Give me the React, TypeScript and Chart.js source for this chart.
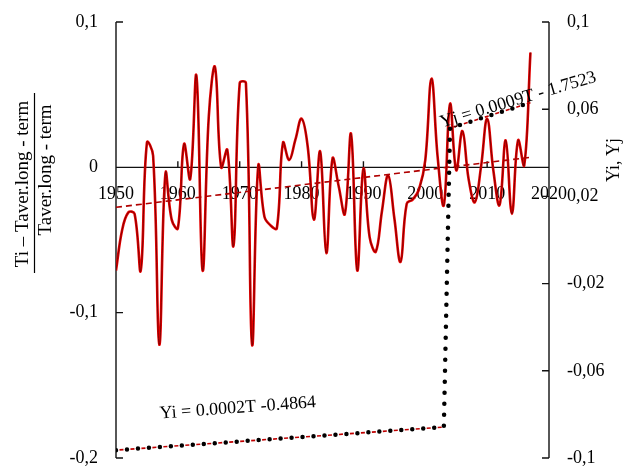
import { useEffect, useRef } from "react";
import { Chart, registerables } from "chart.js";

Chart.register(...registerables);

// Relative deviation of annual temperature from the long-term mean
const firstYear = 1950;
const anomaly = [
  -0.071, -0.043, -0.031, -0.032, -0.071, 0.017, 0.008, -0.122, -0.004, -0.036, // 1950-1959
  -0.042, 0.016, -0.008, 0.063, -0.071, 0.035, 0.069, 0.0, 0.012, -0.054, // 1960-1969
  0.058, 0.058, -0.122, 0.001, -0.034, -0.04, -0.042, 0.017, 0.005, 0.019, // 1970-1979
  0.0335, 0.014, -0.036, 0.011, -0.059, 0.006, -0.013, -0.032, 0.023, -0.071, // 1980-1989
  -0.001, -0.048, -0.058, -0.03, -0.0055, -0.035, -0.065, -0.025, -0.022, -0.015, // 1990-1999
  0.005, 0.061, 0.007, -0.026, 0.0437, -0.002, 0.025, -0.008, -0.024, 0.0, // 2000-2009
  0.0335, -0.002, -0.026, 0.0186, -0.032, 0.0186, 0.0014, 0.079, // 2010-2017
];
const years = anomaly.map((_, i) => firstYear + i);

// Linear trend of the deviation series (left axis)
const trendYears = [1950, 2017];
const trendValues = [-0.0275, 0.0069];

// Piecewise regression lines (right axis)
const yiYears = [1950, 2003];
const yiValues = [-0.0964, -0.0858];
const yjYears = [2004, 2017];
const yjValues = [0.0513, 0.063];

const xTicks = [1950, 1960, 1970, 1980, 1990, 2000, 2010, 2020];
const leftTicks = [-0.2, -0.1, 0, 0.1];
const rightTicks = [-0.1, -0.06, -0.02, 0.02, 0.06, 0.1];

const yiLabel = "Yi = 0.0002T -0.4864";
const yjLabel = "Yj = 0.0009T - 1.7523";
const leftTitleTop = "Ti \u2013 Taver.long - term";
const leftTitleBottom = "Taver.long - term";
const rightTitle = "Yi, Yj";

const SERIF = "'Liberation Serif', 'Times New Roman', serif";

const fmt = (v: number) => String(Math.round(v * 1000) / 1000).replace(".", ",");

const toPoints = (xs: number[], ys: number[]) => xs.map((x, i) => ({ x, y: ys[i] }));

// keep the vertical axes from reserving extra room above/below the plot
const noVerticalPadding = (s: any) => {
  s.paddingTop = 0;
  s.paddingBottom = 0;
};

const frame = {
  id: "frame",
  beforeDatasetsDraw(chart: any) {
    const { ctx, chartArea: a, scales } = chart;
    const x = scales.x;
    const y = scales.y;
    const y2 = scales.y2;
    ctx.save();
    ctx.strokeStyle = "#111";
    ctx.lineWidth = 1.4;
    ctx.beginPath();
    ctx.moveTo(a.left, a.top);
    ctx.lineTo(a.left, a.bottom);
    leftTicks.forEach((v) => {
      const py = y.getPixelForValue(v);
      ctx.moveTo(a.left, py);
      ctx.lineTo(a.left + 7, py);
    });
    ctx.moveTo(a.right, a.top);
    ctx.lineTo(a.right, a.bottom);
    rightTicks.forEach((v) => {
      const py = y2.getPixelForValue(v);
      ctx.moveTo(a.right - 7, py);
      ctx.lineTo(a.right, py);
    });
    const zy = y.getPixelForValue(0);
    ctx.moveTo(a.left, zy);
    ctx.lineTo(a.right, zy);
    xTicks.forEach((t) => {
      const px = x.getPixelForValue(t);
      ctx.moveTo(px, zy);
      ctx.lineTo(px, zy - 6);
    });
    ctx.stroke();
    ctx.restore();
  },
  afterDraw(chart: any) {
    const { ctx, scales } = chart;
    const x = scales.x;
    const y2 = scales.y2;
    ctx.save();
    ctx.fillStyle = "#000";
    ctx.strokeStyle = "#000";
    ctx.textAlign = "center";
    ctx.textBaseline = "middle";

    // left title as a fraction
    ctx.font = `19px ${SERIF}`;
    ctx.save();
    ctx.translate(23, 184);
    ctx.rotate(-Math.PI / 2);
    ctx.fillText(leftTitleTop, 0, 0);
    ctx.restore();
    ctx.lineWidth = 1.2;
    ctx.beginPath();
    ctx.moveTo(34.5, 93);
    ctx.lineTo(34.5, 273);
    ctx.stroke();
    ctx.save();
    ctx.translate(46, 170);
    ctx.rotate(-Math.PI / 2);
    ctx.fillText(leftTitleBottom, 0, 0);
    ctx.restore();

    // right title
    ctx.font = `18px ${SERIF}`;
    ctx.save();
    ctx.translate(614, 160);
    ctx.rotate(-Math.PI / 2);
    ctx.fillText(rightTitle, 0, 0);
    ctx.restore();

    // regression equations
    ctx.font = `18px ${SERIF}`;
    ctx.save();
    ctx.translate(x.getPixelForValue(1969.7), y2.getPixelForValue(-0.0771));
    ctx.rotate((-4.2 * Math.PI) / 180);
    ctx.fillText(yiLabel, 0, 0);
    ctx.restore();
    ctx.save();
    ctx.translate(x.getPixelForValue(2015.0), y2.getPixelForValue(0.0643));
    ctx.rotate((-16.5 * Math.PI) / 180);
    ctx.fillText(yjLabel, 0, 0);
    ctx.restore();
    ctx.restore();
  },
};

export default function App() {
  const ref = useRef<HTMLCanvasElement | null>(null);

  useEffect(() => {
    if (!ref.current) return;
    const series = toPoints(years, anomaly);
    const regression = [...toPoints(yiYears, yiValues), ...toPoints(yjYears, yjValues)];
    const chart = new Chart(ref.current, {
      type: "line",
      data: {
        datasets: [
          {
            data: regression,
            yAxisID: "y2",
            borderColor: "#000",
            borderWidth: 4.5,
            borderDash: [0, 11],
            borderCapStyle: "round",
            pointRadius: 0,
            tension: 0,
          },
          {
            data: toPoints(yiYears, yiValues),
            yAxisID: "y2",
            borderColor: "#c00000",
            borderWidth: 1.6,
            borderDash: [4, 7],
            borderDashOffset: -3.5,
            pointRadius: 0,
            tension: 0,
          },
          {
            data: toPoints(yjYears, yjValues),
            yAxisID: "y2",
            borderColor: "#c00000",
            borderWidth: 1.6,
            borderDash: [4, 7],
            borderDashOffset: -3.5,
            pointRadius: 0,
            tension: 0,
          },
          {
            data: toPoints(trendYears, trendValues),
            yAxisID: "y",
            borderColor: "#b00000",
            borderWidth: 1.6,
            borderDash: [6, 4],
            pointRadius: 0,
            tension: 0,
          },
          {
            data: series,
            yAxisID: "y",
            borderColor: "#6a0000",
            borderWidth: 0.8,
            pointRadius: 0,
            tension: 0.4,
          },
          {
            data: series,
            yAxisID: "y",
            borderColor: "#e80000",
            borderWidth: 2.6,
            pointRadius: 0,
            tension: 0.4,
          },
        ],
      },
      options: {
        responsive: false,
        animation: false,
        events: [],
        layout: { padding: { top: 22, bottom: 9, left: 0, right: 0 } },
        plugins: { legend: { display: false }, tooltip: { enabled: false } },
        scales: {
          x: {
            type: "linear",
            min: 1950,
            max: 2020,
            position: { y: 0 } as any,
            grid: { display: false, drawTicks: false },
            border: { display: false },
            afterBuildTicks: (s: any) => {
              s.ticks = xTicks.map((value) => ({ value }));
            },
            ticks: {
              callback: (v: any) => String(v),
              font: { family: SERIF, size: 18 },
              color: "#000",
              padding: 16,
              maxRotation: 0,
              autoSkip: false,
            },
          },
          y: {
            position: "left",
            min: -0.2,
            max: 0.1,
            grid: { display: false, drawTicks: false },
            border: { display: false },
            afterBuildTicks: (s: any) => {
              s.ticks = leftTicks.map((value) => ({ value }));
            },
            afterFit: (s: any) => {
              s.width = 116;
              noVerticalPadding(s);
            },
            ticks: {
              callback: (v: any) => fmt(Number(v)),
              font: { family: SERIF, size: 18 },
              color: "#000",
              padding: 18,
            },
          },
          y2: {
            position: "right",
            min: -0.1,
            max: 0.1,
            grid: { display: false, drawTicks: false },
            border: { display: false },
            afterBuildTicks: (s: any) => {
              s.ticks = rightTicks.map((value) => ({ value }));
            },
            afterFit: (s: any) => {
              s.width = 75;
              noVerticalPadding(s);
            },
            ticks: {
              callback: (v: any) => fmt(Number(v)),
              font: { family: SERIF, size: 18 },
              color: "#000",
              padding: 18,
            },
          },
        },
      },
      plugins: [frame],
    } as any);
    return () => chart.destroy();
  }, []);

  return (
    <div style={{ position: "fixed", left: 0, top: 0, width: 624, height: 467, background: "#fff" }}>
      <canvas ref={ref} width={624} height={467} style={{ display: "block" }} />
    </div>
  );
}
